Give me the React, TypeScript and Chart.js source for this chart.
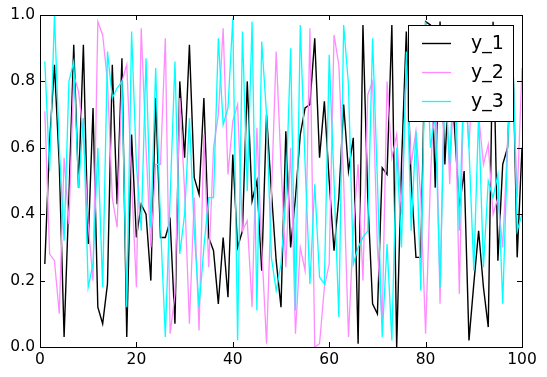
import React, { useEffect, useRef } from "react";
import { Chart, registerables } from "chart.js";

Chart.register(...registerables);

const seriesLabels = ["y_1", "y_2", "y_3"];
const seriesColors = ["#000000", "#ff8cff", "#00ffff"];
const xTicks = [0, 20, 40, 60, 80, 100];
const yTicks = [0, 0.2, 0.4, 0.6, 0.8, 1.0];

const y1 = [
  0.25, 0.62, 0.85, 0.55, 0.03, 0.45, 0.91, 0.48, 0.91, 0.31,
  0.72, 0.12, 0.07, 0.19, 0.85, 0.43, 0.87, 0.03, 0.64, 0.33,
  0.43, 0.40, 0.20, 0.75, 0.33, 0.33, 0.38, 0.07, 0.80, 0.57,
  0.91, 0.51, 0.46, 0.75, 0.33, 0.29, 0.13, 0.33, 0.15, 0.58,
  0.30, 0.35, 0.80, 0.44, 0.50, 0.23, 0.70, 0.47, 0.26, 0.12,
  0.65, 0.30, 0.45, 0.64, 0.72, 0.73, 0.93, 0.57, 0.74, 0.50,
  0.29, 0.45, 0.73, 0.53, 0.63, 0.01, 0.97, 0.45, 0.13, 0.10,
  0.54, 0.52, 0.97, 0.00, 0.55, 0.95, 0.50, 0.27, 0.27, 0.98,
  0.97, 0.48, 0.98, 0.55, 0.86, 0.66, 0.42, 0.53, 0.02, 0.19,
  0.35, 0.18, 0.06, 0.98, 0.26, 0.55, 0.60, 0.95, 0.27, 0.60,
];

const y2 = [
  0.71, 0.28, 0.26, 0.10, 0.57, 0.37, 0.82, 0.77, 0.64, 0.37,
  0.20, 0.98, 0.94, 0.80, 0.45, 0.36, 0.80, 0.85, 0.50, 0.18,
  0.96, 0.60, 0.30, 0.55, 0.55, 0.93, 0.04, 0.16, 0.75, 0.47,
  0.07, 0.45, 0.05, 0.64, 0.24, 0.60, 0.70, 0.96, 0.52, 0.68,
  0.73, 0.35, 0.38, 0.12, 0.66, 0.30, 0.01, 0.45, 0.89, 0.55,
  0.24, 0.60, 0.04, 0.30, 0.23, 0.96, 0.00, 0.01, 0.18, 0.25,
  0.94, 0.85, 0.50, 0.03, 0.35, 0.55, 0.20, 0.76, 0.80, 0.30,
  0.07, 0.80, 0.57, 0.64, 0.40, 0.85, 0.55, 0.65, 0.45, 0.04,
  0.50, 0.85, 0.13, 0.90, 0.49, 0.85, 0.16, 0.85, 0.60, 0.90,
  0.70, 0.55, 0.61, 0.40, 0.45, 0.30, 0.62, 0.86, 0.45, 0.84,
];

const y3 = [
  0.86, 0.53, 1.00, 0.60, 0.32, 0.80, 0.86, 0.48, 0.69, 0.18,
  0.25, 0.60, 0.18, 0.89, 0.75, 0.78, 0.80, 0.12, 0.95, 0.55,
  0.35, 0.87, 0.36, 0.84, 0.37, 0.03, 0.45, 0.86, 0.28, 0.40,
  0.69, 0.35, 0.12, 0.30, 0.45, 0.45, 0.93, 0.67, 0.72, 0.99,
  0.02, 0.95, 0.47, 0.98, 0.11, 0.92, 0.70, 0.27, 0.17, 0.25,
  0.45, 0.90, 0.11, 0.97, 0.55, 0.19, 0.49, 0.21, 0.19, 0.88,
  0.50, 0.09, 0.97, 0.79, 0.25, 0.30, 0.33, 0.35, 0.93, 0.50,
  0.03, 0.31, 0.02, 0.60, 0.30, 0.89, 0.35, 0.65, 0.17, 0.98,
  0.60, 0.70, 0.18, 0.80, 0.55, 0.90, 0.35, 0.85, 0.60, 0.23,
  0.70, 0.24, 0.50, 0.45, 0.52, 0.13, 0.60, 0.94, 0.35, 0.40,
];

const allSeries = [y1, y2, y3];

const FONT = "'DejaVu Sans', sans-serif";

const framePlugin = {
  id: "mplFrame",
  afterDatasetsDraw(chart: any) {
    const { ctx, chartArea, scales } = chart;
    const { left, right, top, bottom } = chartArea;
    const x = scales.x;
    const y = scales.y;
    ctx.save();
    ctx.strokeStyle = "#000";
    ctx.lineWidth = 1;
    ctx.beginPath();
    const tl = 5;
    for (const v of xTicks) {
      const px = Math.round(x.getPixelForValue(v)) + 0.5;
      ctx.moveTo(px, bottom);
      ctx.lineTo(px, bottom - tl);
      ctx.moveTo(px, top);
      ctx.lineTo(px, top + tl);
    }
    for (const v of yTicks) {
      const py = Math.round(y.getPixelForValue(v)) + 0.5;
      ctx.moveTo(left, py);
      ctx.lineTo(left + tl, py);
      ctx.moveTo(right, py);
      ctx.lineTo(right - tl, py);
    }
    ctx.stroke();
    ctx.strokeRect(Math.round(left) + 0.5, Math.round(top) + 0.5, Math.round(right - left), Math.round(bottom - top));
    ctx.restore();
  },
  afterDraw(chart: any) {
    const { ctx, chartArea } = chart;
    const bw = 105;
    const bh = 96;
    const bx = Math.round(chartArea.right) - 9 - bw;
    const by = Math.round(chartArea.top) + 10;
    ctx.save();
    ctx.fillStyle = "#fff";
    ctx.fillRect(bx, by, bw, bh);
    ctx.strokeStyle = "#000";
    ctx.lineWidth = 1;
    ctx.strokeRect(bx + 0.5, by + 0.5, bw, bh);
    ctx.font = `19px ${FONT}`;
    ctx.textBaseline = "middle";
    ctx.textAlign = "left";
    chart.data.datasets.forEach((ds: any, i: number) => {
      const ry = by + 18 + i * 29;
      ctx.strokeStyle = ds.borderColor;
      ctx.lineWidth = ds.borderWidth;
      ctx.beginPath();
      ctx.moveTo(bx + 14, ry + 0.5);
      ctx.lineTo(bx + 43, ry + 0.5);
      ctx.stroke();
      ctx.fillStyle = "#000";
      ctx.fillText(ds.label, bx + 63, ry + 1);
    });
    ctx.restore();
  },
};

export default function App() {
  const ref = useRef<HTMLCanvasElement | null>(null);
  useEffect(() => {
    if (!ref.current) return;
    const datasets = allSeries.map((s, k) => ({
      label: seriesLabels[k],
      data: s.map((v, i) => ({ x: i + 1, y: v })),
      borderColor: seriesColors[k],
      backgroundColor: seriesColors[k],
      borderWidth: k === 0 ? 1.4 : 1.3,
      pointRadius: 0,
      tension: 0,
      fill: false,
      order: 2 - k,
    }));
    const chart = new Chart(ref.current, {
      type: "line",
      data: { datasets },
      options: {
        animation: false,
        responsive: false,
        maintainAspectRatio: false,
        layout: { padding: { left: 0, right: 25, top: 15, bottom: 0 } },
        plugins: { legend: { display: false }, tooltip: { enabled: false } },
        scales: {
          x: {
            type: "linear",
            min: 0,
            max: 100,
            afterFit: (s: any) => { s.height = 30; },
            afterBuildTicks: (s: any) => { s.ticks = xTicks.map((v) => ({ value: v })); },
            grid: { display: false, drawTicks: false },
            border: { display: false },
            ticks: {
              padding: 4,
              color: "#000",
              font: { family: FONT, size: 15.5 },
              maxRotation: 0,
              autoSkip: false,
              callback: (v: any) => String(v),
            },
          },
          y: {
            type: "linear",
            min: 0,
            max: 1,
            afterFit: (s: any) => { s.width = 40; },
            afterBuildTicks: (s: any) => { s.ticks = yTicks.map((v) => ({ value: v })); },
            grid: { display: false, drawTicks: false },
            border: { display: false },
            ticks: {
              padding: 5,
              color: "#000",
              font: { family: FONT, size: 15.5 },
              autoSkip: false,
              callback: (v: any) => Number(v).toFixed(1),
            },
          },
        },
      },
      plugins: [framePlugin],
    });
    return () => chart.destroy();
  }, []);
  return (
    <div style={{ position: "absolute", left: 0, top: 0, width: 547, height: 377, background: "#fff" }}>
      <canvas ref={ref} width={547} height={377} style={{ display: "block", width: 547, height: 377 }} />
    </div>
  );
}
